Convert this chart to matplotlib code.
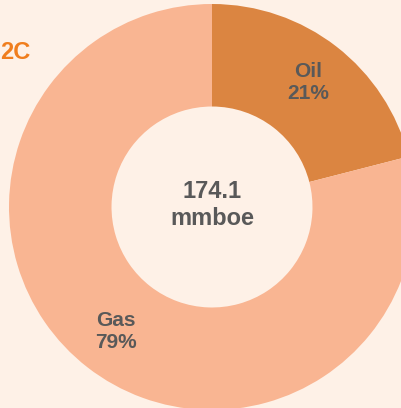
import matplotlib.pyplot as plt

# data
categories = ['Oil', 'Gas']
shares = [21, 79]  # % of 2C resources
total_label = '174.1\nmmboe'
panel_label = '2C'

colors = ['#DB8541', '#F9B592']
bg = '#FEF1E7'
text_grey = '#595959'

plt.rcParams['font.family'] = ['Liberation Sans', 'DejaVu Sans']

fig = plt.figure(figsize=(4.02, 4.08), dpi=100, facecolor=bg)
ax = fig.add_axes([0, 0, 1, 1])
ax.set_facecolor(bg)

# pie centre at (212, 207) px, radius 203 px
scale = 203.0
cx, cy = 212, 207

labels = [f'{c}\n{s}%' for c, s in zip(categories, shares)]
wedges, texts = ax.pie(shares, labels=labels, colors=colors, startangle=90,
                       counterclock=False, radius=1.0, labeldistance=0.775,
                       wedgeprops=dict(width=0.505, edgecolor='none'),
                       textprops=dict(color=text_grey, fontsize=15, fontweight='bold',
                                      linespacing=1.2))
for t in texts:
    t.set_ha('center')
    t.set_va('center')
ax.set_xlim(-cx / scale, (402 - cx) / scale)
ax.set_ylim((cy - 408) / scale, cy / scale)
ax.set_aspect('auto')
ax.axis('off')

ax.text(0, 0.01, total_label, ha='center', va='center', color=text_grey,
        fontsize=17, fontweight='bold', linespacing=1.25)

fig.text(0.0, 0.872, panel_label, ha='left', va='center', color='#F07E1E',
         fontsize=17, fontweight='bold')

fig.savefig('out.png', dpi=100, facecolor=bg)
